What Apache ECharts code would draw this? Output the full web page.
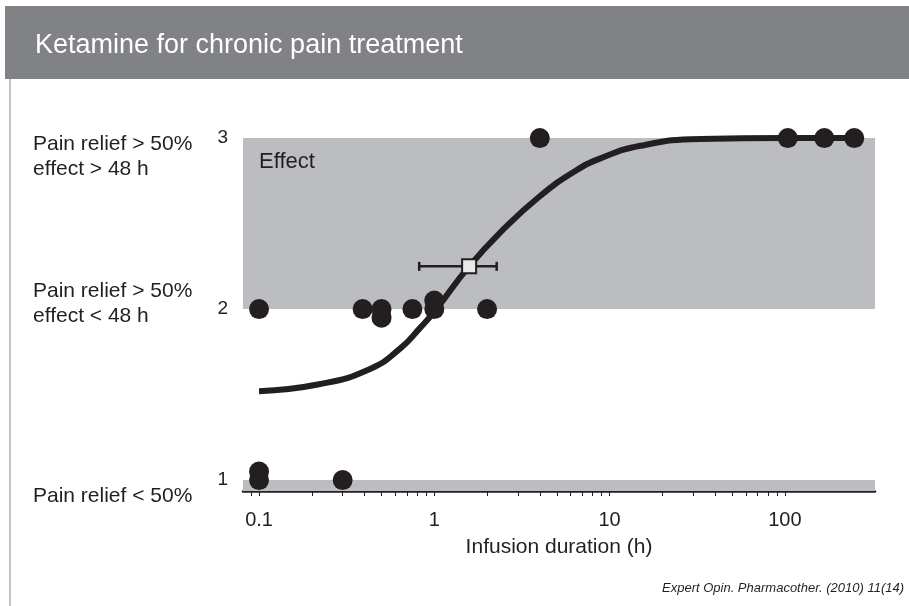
<!DOCTYPE html>
<html>
<head>
<meta charset="utf-8">
<script src="https://cdn.jsdelivr.net/npm/echarts@6/dist/echarts.min.js"></script>
<style>
html, body { margin: 0; padding: 0; background: #fff; }
#chart { width: 909px; height: 606px; }
</style>
</head>
<body>
<div id="chart"></div>
<script>
var titleText = "Ketamine for chronic pain treatment";
var sourceText = "Expert Opin. Pharmacother. (2010) 11(14)";
var xName = "Infusion duration (h)";
var bandText = "Effect";

// x axis (log), labels and ticks
var xLabels = [0.1, 1, 10, 100];
var xTicks = [0.09, 0.1, 0.2, 0.3, 0.4, 0.5, 0.6, 0.7, 0.8, 0.9,
              1, 2, 3, 4, 5, 6, 7, 8, 9,
              10, 20, 30, 40, 50, 60, 70, 80, 90, 100];
var xMin = 0.081, xMax = 327;

// y axis
var yLabels = [1, 2, 3];
var yMin = 0.936, yMax = 3.1;
var levelTexts = ["Pain relief > 50%\neffect > 48 h", "Pain relief > 50%\neffect < 48 h", "Pain relief < 50%"];

// single studies
var pointsX = [0.1, 0.1, 0.3, 0.1, 0.39, 0.5, 0.5, 0.75, 1.0, 1.0, 2.0, 4.0, 104, 168, 249];
var pointsY = [1.05, 1.0, 1.0, 2.0, 2.0, 2.0, 1.95, 2.0, 2.05, 2.0, 2.0, 3.0, 3.0, 3.0, 3.0];

// fitted curve
var curveX = [0.1, 0.22, 0.43, 0.64, 0.83, 1.0, 1.58, 2.5, 4.0, 6.2, 8.8, 15, 33, 100, 249];
var curveY = [1.52, 1.56, 1.65, 1.77, 1.89, 1.985, 2.25, 2.47, 2.66, 2.8, 2.88, 2.955, 2.995, 3.0, 3.0];

// mean with horizontal error
var meanX = [1.58];
var meanY = [2.25];
var meanLow = [0.82];
var meanHigh = [2.27];

// shaded bands
var effectBand = [2, 3];
var noEffectBand = [yMin, 1];

var ink = "#231f20";
var font = "'Liberation Sans', Arial, Helvetica, sans-serif";

var chart = echarts.init(document.getElementById("chart"));

var pointData = pointsX.map(function (x, i) { return [x, pointsY[i]]; });
var curveData = curveX.map(function (x, i) { return [x, curveY[i]]; });
var meanData = meanX.map(function (x, i) { return [x, meanY[i]]; });
var errData = meanLow.map(function (lo, i) { return [lo, meanHigh[i], meanY[i]]; });

var option = {
    animation: false,
    backgroundColor: "#fff",
    grid: { left: 243, right: 34, top: 121, bottom: 115 },
    xAxis: {
        type: "log",
        logBase: 10,
        min: xMin,
        max: xMax,
        name: xName,
        nameLocation: "middle",
        nameGap: 46,
        nameTextStyle: { color: ink, fontSize: 21, fontFamily: font },
        axisLine: { show: true, lineStyle: { color: ink, width: 2.5 } },
        axisTick: { show: true, inside: false, length: 5, customValues: xTicks, lineStyle: { color: ink, width: 1 } },
        axisLabel: {
            customValues: xLabels,
            margin: 19,
            color: ink,
            fontSize: 20,
            fontFamily: font,
            formatter: function (v) { return String(+v.toPrecision(3)); }
        },
        splitLine: { show: false },
        minorTick: { show: false }
    },
    yAxis: {
        type: "value",
        min: yMin,
        max: yMax,
        axisLine: { show: false },
        axisTick: { show: false },
        splitLine: { show: false },
        axisLabel: {
            customValues: yLabels,
            margin: 15,
            color: ink,
            fontSize: 19,
            fontFamily: font
        }
    },
    graphic: [
        { type: "rect", left: 5, top: 6, shape: { width: 904, height: 73 }, style: { fill: "#818285" }, z: 0 },
        { type: "line", shape: { x1: 10, y1: 79, x2: 10, y2: 606 }, style: { stroke: "#c4c4c4", lineWidth: 2 } },
        { type: "text", left: 35, top: 32, style: { text: titleText, fill: "#fff", font: "27px " + font } },
        { type: "text", left: 33, top: 132, style: { text: levelTexts[0], fill: ink, font: "21px " + font, lineHeight: 25 } },
        { type: "text", left: 33, top: 279, style: { text: levelTexts[1], fill: ink, font: "21px " + font, lineHeight: 25 } },
        { type: "text", left: 33, top: 484, style: { text: levelTexts[2], fill: ink, font: "21px " + font, lineHeight: 25 } },
        { type: "text", left: 259, top: 151, z: 10, style: { text: bandText, fill: ink, font: "22px " + font } },
        { type: "text", left: 662, top: 582, style: { text: sourceText, fill: ink, font: "italic 13px " + font } }
    ],
    series: [
        {
            type: "line",
            data: [],
            z: 1,
            markArea: {
                silent: true,
                itemStyle: { color: "#bcbdc0" },
                data: [
                    [{ xAxis: xMin, yAxis: effectBand[0] }, { xAxis: xMax, yAxis: effectBand[1] }],
                    [{ xAxis: xMin, yAxis: noEffectBand[0] }, { xAxis: xMax, yAxis: noEffectBand[1] }]
                ]
            }
        },
        {
            type: "line",
            data: curveData,
            z: 3,
            showSymbol: false,
            smooth: 0.5,
            lineStyle: { color: ink, width: 6 }
        },
        {
            type: "scatter",
            data: pointData,
            z: 4,
            symbol: "circle",
            symbolSize: 20,
            itemStyle: { color: ink, opacity: 1 }
        },
        {
            type: "custom",
            data: errData,
            z: 5,
            encode: { x: [0, 1], y: 2 },
            renderItem: function (params, api) {
                var a = api.coord([api.value(0), api.value(2)]);
                var b = api.coord([api.value(1), api.value(2)]);
                var h = 4.5;
                var st = { stroke: ink, lineWidth: 2.5 };
                return {
                    type: "group",
                    children: [
                        { type: "line", shape: { x1: a[0], y1: a[1], x2: b[0], y2: b[1] }, style: st },
                        { type: "line", shape: { x1: a[0], y1: a[1] - h, x2: a[0], y2: a[1] + h }, style: st },
                        { type: "line", shape: { x1: b[0], y1: b[1] - h, x2: b[0], y2: b[1] + h }, style: st }
                    ]
                };
            }
        },
        {
            type: "scatter",
            data: meanData,
            z: 6,
            symbol: "rect",
            symbolSize: 14,
            itemStyle: { color: "#e8e8e8", borderColor: ink, borderWidth: 2, opacity: 1 }
        }
    ]
};

chart.setOption(option);
</script>
</body>
</html>
